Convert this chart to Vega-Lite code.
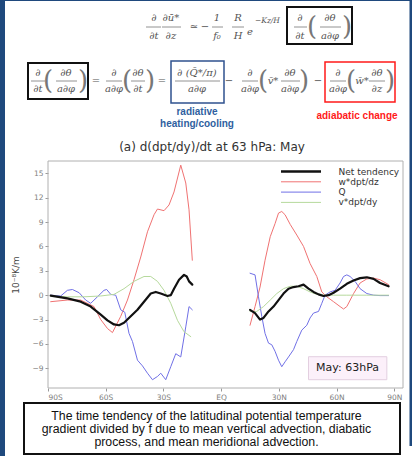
{
  "$schema": "https://vega.github.io/schema/vega-lite/v6.json",
  "width": 355,
  "height": 227,
  "autosize": {"type": "none"},
  "padding": {"left": 48, "top": 161, "right": 9, "bottom": 68},
  "background": "white",
  "config": {
    "font": "DejaVu Sans",
    "view": {"stroke": null},
    "axis": {"grid": false, "domain": false, "tickColor": "#999999", "tickSize": 3, "labelColor": "#808080", "labelFontSize": 7.5, "labelPadding": 2}
  },
  "datasets": {
    "strips": [
      {"x": 0, "x2": 5, "y": 0, "y2": 456},
      {"x": 0, "x2": 412, "y": 0, "y2": 1},
      {"x": 409.5, "x2": 412, "y": 0, "y2": 446}
    ],
    "frame": [
      {"x": 48, "x2": 403, "y": 161, "y2": 388}
    ],
    "boxes": [
      {"x": 287, "x2": 352, "y": 7, "y2": 44, "c": "k"},
      {"x": 28, "x2": 88, "y": 63, "y2": 99, "c": "k"},
      {"x": 171, "x2": 224, "y": 61, "y2": 103, "c": "b"},
      {"x": 325, "x2": 395, "y": 62, "y2": 102, "c": "r"},
      {"x": 24, "x2": 400, "y": 403, "y2": 454, "c": "k"}
    ],
    "eq": [
      {"x": 154, "y": 18, "t": "∂", "k": "n"}, {"x": 154, "y": 36, "t": "∂t", "k": "n"},
      {"x": 171, "y": 18, "t": "∂ū*", "k": "n"}, {"x": 171, "y": 36, "t": "∂z", "k": "n"},
      {"x": 194, "y": 27, "t": "≃", "k": "n"}, {"x": 205, "y": 27, "t": "−", "k": "n"},
      {"x": 217, "y": 18, "t": "1", "k": "n"}, {"x": 217, "y": 36, "t": "f₀", "k": "n"},
      {"x": 238, "y": 18, "t": "R", "k": "n"}, {"x": 238, "y": 36, "t": "H", "k": "n"},
      {"x": 250, "y": 32, "t": "e", "k": "n"}, {"x": 255, "y": 21, "t": "−Kz/H", "k": "s"},
      {"x": 300, "y": 18, "t": "∂", "k": "n"}, {"x": 300, "y": 36, "t": "∂t", "k": "n"},
      {"x": 312, "y": 27, "t": "(", "k": "p"}, {"x": 330, "y": 18, "t": "∂θ", "k": "n"}, {"x": 330, "y": 36, "t": "a∂φ", "k": "n"}, {"x": 347, "y": 27, "t": ")", "k": "p"},
      {"x": 38, "y": 73, "t": "∂", "k": "n"}, {"x": 38, "y": 89, "t": "∂t", "k": "n"},
      {"x": 48, "y": 81, "t": "(", "k": "p"}, {"x": 66, "y": 73, "t": "∂θ", "k": "n"}, {"x": 66, "y": 89, "t": "a∂φ", "k": "n"}, {"x": 83, "y": 81, "t": ")", "k": "p"},
      {"x": 96, "y": 81, "t": "=", "k": "n"},
      {"x": 114, "y": 73, "t": "∂", "k": "n"}, {"x": 114, "y": 89, "t": "a∂φ", "k": "n"},
      {"x": 127, "y": 81, "t": "(", "k": "p"}, {"x": 138, "y": 73, "t": "∂θ", "k": "n"}, {"x": 138, "y": 89, "t": "∂t", "k": "n"}, {"x": 150, "y": 81, "t": ")", "k": "p"},
      {"x": 162, "y": 81, "t": "=", "k": "n"},
      {"x": 197, "y": 73, "t": "∂ (Q̄*/π)", "k": "n"}, {"x": 197, "y": 89, "t": "a∂φ", "k": "n"},
      {"x": 229, "y": 81, "t": "−", "k": "n"},
      {"x": 250, "y": 73, "t": "∂", "k": "n"}, {"x": 250, "y": 89, "t": "a∂φ", "k": "n"},
      {"x": 263, "y": 81, "t": "(", "k": "p"}, {"x": 273, "y": 81, "t": "v̄*", "k": "n"},
      {"x": 290, "y": 73, "t": "∂θ", "k": "n"}, {"x": 290, "y": 89, "t": "a∂φ", "k": "n"}, {"x": 304, "y": 81, "t": ")", "k": "p"},
      {"x": 318, "y": 81, "t": "−", "k": "n"},
      {"x": 338, "y": 73, "t": "∂", "k": "n"}, {"x": 338, "y": 89, "t": "a∂φ", "k": "n"},
      {"x": 351, "y": 81, "t": "(", "k": "p"}, {"x": 362, "y": 81, "t": "w̄*", "k": "n"},
      {"x": 377, "y": 73, "t": "∂θ", "k": "n"}, {"x": 377, "y": 89, "t": "∂z", "k": "n"}, {"x": 390, "y": 81, "t": ")", "k": "p"}
    ],
    "eqlines": [
      {"x": 146, "x2": 161, "y": 27}, {"x": 162, "x2": 181, "y": 27}, {"x": 212, "x2": 223, "y": 27}, {"x": 232, "x2": 244, "y": 27}, {"x": 294, "x2": 307, "y": 27}, {"x": 320, "x2": 341, "y": 27},
      {"x": 31, "x2": 45, "y": 81}, {"x": 56, "x2": 77, "y": 81}, {"x": 106, "x2": 122, "y": 81}, {"x": 131, "x2": 145, "y": 81}, {"x": 175, "x2": 220, "y": 81}, {"x": 242, "x2": 258, "y": 81}, {"x": 281, "x2": 300, "y": 81}, {"x": 330, "x2": 346, "y": 81}, {"x": 369, "x2": 385, "y": 81}
    ],
    "notes": [
      {"x": 197, "y": 112, "t": "radiative", "c": "b"},
      {"x": 197, "y": 124, "t": "heating/cooling", "c": "b"},
      {"x": 357, "y": 116, "t": "adiabatic change", "c": "r"}
    ],
    "texts": [
      {"x": 212, "y": 147, "t": "(a) d(dpt/dy)/dt at 63 hPa: May", "k": "title"},
      {"x": 206.5, "y": 416, "t": "The time tendency of the latitudinal potential temperature", "k": "cap"},
      {"x": 206.5, "y": 429, "t": "gradient divided by f due to mean vertical advection, diabatic", "k": "cap"},
      {"x": 206.5, "y": 442, "t": "process, and mean meridional advection.", "k": "cap"}
    ],
    "mayBox": [
      {"lat": 45.4, "lat2": 86.1, "val": -7.57, "val2": -10.4, "mid": 65.7, "vmid": -9.0, "lab": "May: 63hPa"}
    ],
    "lines": [
      {"s": "w*dpt/dz", "h": "S", "lat": -88.6, "val": -0.8},
      {"s": "w*dpt/dz", "h": "S", "lat": -80.0, "val": -0.6},
      {"s": "w*dpt/dz", "h": "S", "lat": -73.0, "val": -0.6},
      {"s": "w*dpt/dz", "h": "S", "lat": -66.1, "val": -1.4},
      {"s": "w*dpt/dz", "h": "S", "lat": -62.6, "val": -3.0},
      {"s": "w*dpt/dz", "h": "S", "lat": -59.1, "val": -4.1},
      {"s": "w*dpt/dz", "h": "S", "lat": -56.5, "val": -4.6},
      {"s": "w*dpt/dz", "h": "S", "lat": -52.2, "val": -2.6},
      {"s": "w*dpt/dz", "h": "S", "lat": -48.7, "val": -0.6},
      {"s": "w*dpt/dz", "h": "S", "lat": -45.3, "val": 1.9},
      {"s": "w*dpt/dz", "h": "S", "lat": -41.8, "val": 4.7},
      {"s": "w*dpt/dz", "h": "S", "lat": -38.3, "val": 7.8},
      {"s": "w*dpt/dz", "h": "S", "lat": -34.9, "val": 9.9},
      {"s": "w*dpt/dz", "h": "S", "lat": -33.1, "val": 10.6},
      {"s": "w*dpt/dz", "h": "S", "lat": -29.7, "val": 10.4},
      {"s": "w*dpt/dz", "h": "S", "lat": -27.1, "val": 11.1},
      {"s": "w*dpt/dz", "h": "S", "lat": -24.5, "val": 12.7},
      {"s": "w*dpt/dz", "h": "S", "lat": -21.0, "val": 16.0},
      {"s": "w*dpt/dz", "h": "S", "lat": -18.4, "val": 13.8},
      {"s": "w*dpt/dz", "h": "S", "lat": -16.7, "val": 10.5},
      {"s": "w*dpt/dz", "h": "S", "lat": -15.0, "val": 4.3},
      {"s": "w*dpt/dz", "h": "N", "lat": 15.0, "val": -3.7},
      {"s": "w*dpt/dz", "h": "N", "lat": 17.6, "val": -1.4},
      {"s": "w*dpt/dz", "h": "N", "lat": 20.2, "val": 1.0},
      {"s": "w*dpt/dz", "h": "N", "lat": 22.8, "val": 4.3},
      {"s": "w*dpt/dz", "h": "N", "lat": 25.5, "val": 7.2},
      {"s": "w*dpt/dz", "h": "N", "lat": 28.0, "val": 8.8},
      {"s": "w*dpt/dz", "h": "N", "lat": 29.8, "val": 10.1},
      {"s": "w*dpt/dz", "h": "N", "lat": 31.5, "val": 10.3},
      {"s": "w*dpt/dz", "h": "N", "lat": 33.2, "val": 9.9},
      {"s": "w*dpt/dz", "h": "N", "lat": 35.9, "val": 8.7},
      {"s": "w*dpt/dz", "h": "N", "lat": 39.3, "val": 7.4},
      {"s": "w*dpt/dz", "h": "N", "lat": 42.8, "val": 6.0},
      {"s": "w*dpt/dz", "h": "N", "lat": 46.2, "val": 3.9},
      {"s": "w*dpt/dz", "h": "N", "lat": 49.7, "val": 2.3},
      {"s": "w*dpt/dz", "h": "N", "lat": 52.3, "val": 0.4},
      {"s": "w*dpt/dz", "h": "N", "lat": 54.9, "val": -0.2},
      {"s": "w*dpt/dz", "h": "N", "lat": 58.4, "val": -0.8},
      {"s": "w*dpt/dz", "h": "N", "lat": 61.8, "val": -1.4},
      {"s": "w*dpt/dz", "h": "N", "lat": 63.6, "val": -1.7},
      {"s": "w*dpt/dz", "h": "N", "lat": 65.3, "val": -1.4},
      {"s": "w*dpt/dz", "h": "N", "lat": 68.8, "val": 0.2},
      {"s": "w*dpt/dz", "h": "N", "lat": 72.2, "val": 1.5},
      {"s": "w*dpt/dz", "h": "N", "lat": 75.7, "val": 2.0},
      {"s": "w*dpt/dz", "h": "N", "lat": 79.2, "val": 2.1},
      {"s": "w*dpt/dz", "h": "N", "lat": 82.6, "val": 1.9},
      {"s": "w*dpt/dz", "h": "N", "lat": 87.0, "val": 1.3},
      {"s": "Q", "h": "S", "lat": -88.6, "val": 0.0},
      {"s": "Q", "h": "S", "lat": -83.4, "val": -0.1},
      {"s": "Q", "h": "S", "lat": -79.9, "val": 0.6},
      {"s": "Q", "h": "S", "lat": -77.3, "val": 0.7},
      {"s": "Q", "h": "S", "lat": -73.8, "val": 0.3},
      {"s": "Q", "h": "S", "lat": -70.4, "val": -0.6},
      {"s": "Q", "h": "S", "lat": -67.8, "val": -1.0},
      {"s": "Q", "h": "S", "lat": -64.3, "val": -0.2},
      {"s": "Q", "h": "S", "lat": -60.9, "val": 0.6},
      {"s": "Q", "h": "S", "lat": -59.5, "val": 0.7},
      {"s": "Q", "h": "S", "lat": -57.4, "val": 0.1},
      {"s": "Q", "h": "S", "lat": -54.8, "val": 0.0},
      {"s": "Q", "h": "S", "lat": -52.2, "val": -1.8},
      {"s": "Q", "h": "S", "lat": -50.1, "val": -2.1},
      {"s": "Q", "h": "S", "lat": -47.9, "val": -4.7},
      {"s": "Q", "h": "S", "lat": -46.1, "val": -5.7},
      {"s": "Q", "h": "S", "lat": -43.5, "val": -8.0},
      {"s": "Q", "h": "S", "lat": -40.9, "val": -8.7},
      {"s": "Q", "h": "S", "lat": -38.3, "val": -9.6},
      {"s": "Q", "h": "S", "lat": -35.7, "val": -10.4},
      {"s": "Q", "h": "S", "lat": -33.1, "val": -10.0},
      {"s": "Q", "h": "S", "lat": -31.4, "val": -9.6},
      {"s": "Q", "h": "S", "lat": -28.8, "val": -10.4},
      {"s": "Q", "h": "S", "lat": -26.2, "val": -8.8},
      {"s": "Q", "h": "S", "lat": -23.6, "val": -7.2},
      {"s": "Q", "h": "S", "lat": -21.0, "val": -7.6},
      {"s": "Q", "h": "S", "lat": -18.4, "val": -3.9},
      {"s": "Q", "h": "S", "lat": -16.7, "val": -1.4},
      {"s": "Q", "h": "S", "lat": -15.0, "val": -1.8},
      {"s": "Q", "h": "N", "lat": 15.0, "val": 2.7},
      {"s": "Q", "h": "N", "lat": 17.6, "val": 2.5},
      {"s": "Q", "h": "N", "lat": 19.4, "val": -0.2},
      {"s": "Q", "h": "N", "lat": 21.1, "val": -2.6},
      {"s": "Q", "h": "N", "lat": 22.8, "val": -4.7},
      {"s": "Q", "h": "N", "lat": 24.6, "val": -5.9},
      {"s": "Q", "h": "N", "lat": 26.3, "val": -6.1},
      {"s": "Q", "h": "N", "lat": 28.0, "val": -6.9},
      {"s": "Q", "h": "N", "lat": 29.8, "val": -8.0},
      {"s": "Q", "h": "N", "lat": 31.5, "val": -8.8},
      {"s": "Q", "h": "N", "lat": 33.2, "val": -8.2},
      {"s": "Q", "h": "N", "lat": 35.0, "val": -7.6},
      {"s": "Q", "h": "N", "lat": 37.6, "val": -6.7},
      {"s": "Q", "h": "N", "lat": 39.3, "val": -5.7},
      {"s": "Q", "h": "N", "lat": 41.9, "val": -4.3},
      {"s": "Q", "h": "N", "lat": 44.5, "val": -3.7},
      {"s": "Q", "h": "N", "lat": 46.2, "val": -2.8},
      {"s": "Q", "h": "N", "lat": 48.0, "val": -2.2},
      {"s": "Q", "h": "N", "lat": 50.6, "val": -2.0},
      {"s": "Q", "h": "N", "lat": 52.3, "val": -1.0},
      {"s": "Q", "h": "N", "lat": 54.0, "val": 0.0},
      {"s": "Q", "h": "N", "lat": 56.6, "val": 0.4},
      {"s": "Q", "h": "N", "lat": 59.2, "val": 0.6},
      {"s": "Q", "h": "N", "lat": 61.8, "val": 1.5},
      {"s": "Q", "h": "N", "lat": 63.6, "val": 2.3},
      {"s": "Q", "h": "N", "lat": 65.3, "val": 2.5},
      {"s": "Q", "h": "N", "lat": 67.0, "val": 2.3},
      {"s": "Q", "h": "N", "lat": 69.6, "val": 1.7},
      {"s": "Q", "h": "N", "lat": 72.2, "val": 0.8},
      {"s": "Q", "h": "N", "lat": 75.7, "val": 0.2},
      {"s": "Q", "h": "N", "lat": 79.2, "val": 0.0},
      {"s": "Q", "h": "N", "lat": 82.6, "val": -0.05},
      {"s": "Q", "h": "N", "lat": 87.0, "val": -0.05},
      {"s": "v*dpt/dy", "h": "S", "lat": -88.6, "val": -0.1},
      {"s": "v*dpt/dy", "h": "S", "lat": -79.9, "val": -0.2},
      {"s": "v*dpt/dy", "h": "S", "lat": -71.3, "val": -0.2},
      {"s": "v*dpt/dy", "h": "S", "lat": -62.6, "val": -0.1},
      {"s": "v*dpt/dy", "h": "S", "lat": -55.7, "val": 0.1},
      {"s": "v*dpt/dy", "h": "S", "lat": -50.5, "val": 0.8},
      {"s": "v*dpt/dy", "h": "S", "lat": -45.3, "val": 1.7},
      {"s": "v*dpt/dy", "h": "S", "lat": -40.1, "val": 2.3},
      {"s": "v*dpt/dy", "h": "S", "lat": -36.6, "val": 2.3},
      {"s": "v*dpt/dy", "h": "S", "lat": -33.1, "val": 1.7},
      {"s": "v*dpt/dy", "h": "S", "lat": -29.7, "val": 0.6},
      {"s": "v*dpt/dy", "h": "S", "lat": -26.2, "val": -1.0},
      {"s": "v*dpt/dy", "h": "S", "lat": -22.7, "val": -3.1},
      {"s": "v*dpt/dy", "h": "S", "lat": -19.3, "val": -4.5},
      {"s": "v*dpt/dy", "h": "S", "lat": -15.8, "val": -5.1},
      {"s": "v*dpt/dy", "h": "N", "lat": 15.0, "val": -2.0},
      {"s": "v*dpt/dy", "h": "N", "lat": 18.5, "val": -2.0},
      {"s": "v*dpt/dy", "h": "N", "lat": 22.0, "val": -1.4},
      {"s": "v*dpt/dy", "h": "N", "lat": 25.5, "val": -0.6},
      {"s": "v*dpt/dy", "h": "N", "lat": 28.9, "val": 0.2},
      {"s": "v*dpt/dy", "h": "N", "lat": 32.4, "val": 0.8},
      {"s": "v*dpt/dy", "h": "N", "lat": 35.9, "val": 1.1},
      {"s": "v*dpt/dy", "h": "N", "lat": 39.3, "val": 1.1},
      {"s": "v*dpt/dy", "h": "N", "lat": 42.8, "val": 0.8},
      {"s": "v*dpt/dy", "h": "N", "lat": 46.2, "val": 0.4},
      {"s": "v*dpt/dy", "h": "N", "lat": 49.7, "val": 0.1},
      {"s": "v*dpt/dy", "h": "N", "lat": 53.2, "val": 0.0},
      {"s": "v*dpt/dy", "h": "N", "lat": 58.4, "val": 0.0},
      {"s": "v*dpt/dy", "h": "N", "lat": 65.3, "val": 0.0},
      {"s": "v*dpt/dy", "h": "N", "lat": 75.7, "val": 0.0},
      {"s": "v*dpt/dy", "h": "N", "lat": 87.0, "val": 0.0},
      {"s": "Net tendency", "h": "S", "lat": -88.6, "val": -0.05},
      {"s": "Net tendency", "h": "S", "lat": -79.9, "val": -0.4},
      {"s": "Net tendency", "h": "S", "lat": -73.0, "val": -0.8},
      {"s": "Net tendency", "h": "S", "lat": -67.8, "val": -1.4},
      {"s": "Net tendency", "h": "S", "lat": -62.6, "val": -2.4},
      {"s": "Net tendency", "h": "S", "lat": -59.1, "val": -3.1},
      {"s": "Net tendency", "h": "S", "lat": -55.7, "val": -3.6},
      {"s": "Net tendency", "h": "S", "lat": -53.1, "val": -3.7},
      {"s": "Net tendency", "h": "S", "lat": -50.5, "val": -3.4},
      {"s": "Net tendency", "h": "S", "lat": -47.0, "val": -2.6},
      {"s": "Net tendency", "h": "S", "lat": -43.5, "val": -1.8},
      {"s": "Net tendency", "h": "S", "lat": -40.1, "val": -0.8},
      {"s": "Net tendency", "h": "S", "lat": -36.6, "val": 0.2},
      {"s": "Net tendency", "h": "S", "lat": -34.0, "val": 0.4},
      {"s": "Net tendency", "h": "S", "lat": -31.4, "val": 0.2},
      {"s": "Net tendency", "h": "S", "lat": -27.9, "val": -0.1},
      {"s": "Net tendency", "h": "S", "lat": -26.2, "val": 0.0},
      {"s": "Net tendency", "h": "S", "lat": -24.5, "val": 0.8},
      {"s": "Net tendency", "h": "S", "lat": -21.9, "val": 1.9},
      {"s": "Net tendency", "h": "S", "lat": -19.3, "val": 2.5},
      {"s": "Net tendency", "h": "S", "lat": -17.9, "val": 2.3},
      {"s": "Net tendency", "h": "S", "lat": -16.7, "val": 1.7},
      {"s": "Net tendency", "h": "S", "lat": -15.0, "val": 1.3},
      {"s": "Net tendency", "h": "N", "lat": 15.0, "val": -1.8},
      {"s": "Net tendency", "h": "N", "lat": 17.6, "val": -2.2},
      {"s": "Net tendency", "h": "N", "lat": 20.2, "val": -3.0},
      {"s": "Net tendency", "h": "N", "lat": 22.0, "val": -2.8},
      {"s": "Net tendency", "h": "N", "lat": 24.6, "val": -2.0},
      {"s": "Net tendency", "h": "N", "lat": 27.2, "val": -1.4},
      {"s": "Net tendency", "h": "N", "lat": 29.8, "val": -0.6},
      {"s": "Net tendency", "h": "N", "lat": 32.4, "val": 0.2},
      {"s": "Net tendency", "h": "N", "lat": 35.0, "val": 0.8},
      {"s": "Net tendency", "h": "N", "lat": 37.6, "val": 1.0},
      {"s": "Net tendency", "h": "N", "lat": 40.2, "val": 1.1},
      {"s": "Net tendency", "h": "N", "lat": 42.8, "val": 1.3},
      {"s": "Net tendency", "h": "N", "lat": 45.4, "val": 0.8},
      {"s": "Net tendency", "h": "N", "lat": 48.0, "val": 0.4},
      {"s": "Net tendency", "h": "N", "lat": 50.6, "val": 0.1},
      {"s": "Net tendency", "h": "N", "lat": 53.2, "val": -0.1},
      {"s": "Net tendency", "h": "N", "lat": 55.8, "val": 0.0},
      {"s": "Net tendency", "h": "N", "lat": 58.4, "val": 0.3},
      {"s": "Net tendency", "h": "N", "lat": 61.8, "val": 0.8},
      {"s": "Net tendency", "h": "N", "lat": 65.3, "val": 1.4},
      {"s": "Net tendency", "h": "N", "lat": 68.8, "val": 1.8},
      {"s": "Net tendency", "h": "N", "lat": 72.2, "val": 2.1},
      {"s": "Net tendency", "h": "N", "lat": 75.7, "val": 2.2},
      {"s": "Net tendency", "h": "N", "lat": 79.2, "val": 2.0},
      {"s": "Net tendency", "h": "N", "lat": 82.6, "val": 1.5},
      {"s": "Net tendency", "h": "N", "lat": 87.0, "val": 1.1}
    ]
  },
  "layer": [
    {
      "encoding": {
        "x": {"field": "x", "type": "quantitative", "scale": {"domain": [48, 403], "nice": false, "zero": false}, "axis": null},
        "y": {"field": "y", "type": "quantitative", "scale": {"domain": [161, 388], "nice": false, "zero": false, "reverse": true}, "axis": null}
      },
      "layer": [
        {
          "data": {"name": "strips"},
          "mark": {"type": "rect", "fill": "#1f497d"},
          "encoding": {"x2": {"field": "x2"}, "y2": {"field": "y2"}}
        },
        {
          "data": {"name": "frame"},
          "mark": {"type": "rect", "fill": "transparent", "stroke": "#b0b0b0", "strokeWidth": 1},
          "encoding": {"x2": {"field": "x2"}, "y2": {"field": "y2"}}
        },
        {
          "data": {"name": "boxes"},
          "transform": [{"filter": "datum.c === 'k'"}],
          "mark": {"type": "rect", "fill": "transparent", "stroke": "#111111", "strokeWidth": 2},
          "encoding": {"x2": {"field": "x2"}, "y2": {"field": "y2"}}
        },
        {
          "data": {"name": "boxes"},
          "transform": [{"filter": "datum.c === 'b'"}],
          "mark": {"type": "rect", "fill": "transparent", "stroke": "#2f528f", "strokeWidth": 1.5},
          "encoding": {"x2": {"field": "x2"}, "y2": {"field": "y2"}}
        },
        {
          "data": {"name": "boxes"},
          "transform": [{"filter": "datum.c === 'r'"}],
          "mark": {"type": "rect", "fill": "transparent", "stroke": "#ff1a1a", "strokeWidth": 1.5},
          "encoding": {"x2": {"field": "x2"}, "y2": {"field": "y2"}}
        },
        {
          "data": {"name": "eqlines"},
          "mark": {"type": "rule", "stroke": "#777777", "strokeWidth": 0.8},
          "encoding": {"x2": {"field": "x2"}}
        },
        {
          "data": {"name": "eq"},
          "transform": [{"filter": "datum.k === 'n'"}],
          "mark": {"type": "text", "font": "DejaVu Serif", "fontStyle": "italic", "fontSize": 10, "color": "#555555", "align": "center", "baseline": "middle"},
          "encoding": {"text": {"field": "t"}}
        },
        {
          "data": {"name": "eq"},
          "transform": [{"filter": "datum.k === 's'"}],
          "mark": {"type": "text", "font": "DejaVu Serif", "fontStyle": "italic", "fontSize": 7.5, "color": "#555555", "align": "left", "baseline": "middle"},
          "encoding": {"text": {"field": "t"}}
        },
        {
          "data": {"name": "eq"},
          "transform": [{"filter": "datum.k === 'p'"}],
          "mark": {"type": "text", "font": "DejaVu Serif", "fontWeight": 200, "fontSize": 26, "color": "#777777", "align": "center", "baseline": "middle"},
          "encoding": {"text": {"field": "t"}}
        },
        {
          "data": {"name": "notes"},
          "transform": [{"filter": "datum.c === 'b'"}],
          "mark": {"type": "text", "font": "Liberation Sans", "fontSize": 10, "fontWeight": "bold", "color": "#2f5fa0", "align": "center", "baseline": "middle"},
          "encoding": {"text": {"field": "t"}}
        },
        {
          "data": {"name": "notes"},
          "transform": [{"filter": "datum.c === 'r'"}],
          "mark": {"type": "text", "font": "Liberation Sans", "fontSize": 10, "fontWeight": "bold", "color": "#ff1a1a", "align": "center", "baseline": "middle"},
          "encoding": {"text": {"field": "t"}}
        },
        {
          "data": {"name": "texts"},
          "transform": [{"filter": "datum.k === 'title'"}],
          "mark": {"type": "text", "fontSize": 12, "color": "#333333", "align": "center", "baseline": "middle"},
          "encoding": {"text": {"field": "t"}}
        },
        {
          "data": {"name": "texts"},
          "transform": [{"filter": "datum.k === 'cap'"}],
          "mark": {"type": "text", "font": "Liberation Sans", "fontSize": 12.3, "color": "#111111", "align": "center", "baseline": "middle"},
          "encoding": {"text": {"field": "t"}}
        }
      ]
    },
    {
      "encoding": {
        "x": {"field": "lat", "type": "quantitative", "scale": {"domain": [-90, 94.5], "nice": false, "zero": false},
              "axis": {"orient": "bottom", "title": null, "values": [-90, -60, -30, 0, 30, 60, 90],
                       "labelExpr": "datum.value === 0 ? 'EQ' : (abs(datum.value) + (datum.value < 0 ? 'S' : 'N'))"}},
        "y": {"field": "val", "type": "quantitative", "scale": {"domain": [-11.42, 16.51], "nice": false, "zero": false},
              "axis": {"orient": "left", "title": "10⁻⁸K/m", "values": [-9, -6, -3, 0, 3, 6, 9, 12, 15],
                       "titleFontSize": 9, "titleFontWeight": "normal", "titleColor": "#444444", "titlePadding": 11}}
      },
      "layer": [
        {
          "data": {"name": "lines"},
          "mark": {"type": "line", "strokeJoin": "round", "strokeCap": "round"},
          "encoding": {
            "color": {"field": "s", "type": "nominal",
                      "scale": {"domain": ["Net tendency", "w*dpt/dz", "Q", "v*dpt/dy"], "range": ["#111111", "#f07272", "#7070e6", "#b6d99c"]},
                      "legend": {"orient": "none", "legendX": 233, "legendY": 6, "title": null, "symbolType": "stroke", "symbolSize": 1600,
                                 "symbolOffset": 15.5, "clipHeight": 9, "labelFontSize": 9, "labelColor": "#333333", "labelOffset": 33, "rowPadding": 0.3, "padding": 0,
                                 "encode": {"symbols": {"update": {"strokeWidth": {"signal": "datum.value === 'Net tendency' ? 2.5 : 1"}}}}}},
            "strokeWidth": {"condition": {"test": "datum.s === 'Net tendency'", "value": 2.2}, "value": 1},
            "detail": {"field": "h"}
          }
        },
        {
          "data": {"name": "mayBox"},
          "mark": {"type": "rect", "fill": "#fcf0fa", "stroke": "#e3cfe0", "strokeWidth": 1},
          "encoding": {
            "x2": {"field": "lat2"},
            "y2": {"field": "val2"}
          }
        },
        {
          "data": {"name": "mayBox"},
          "mark": {"type": "text", "fontSize": 11, "color": "#222222", "align": "center", "baseline": "middle"},
          "encoding": {
            "x": {"field": "mid", "type": "quantitative", "scale": {"domain": [-90, 94.5], "nice": false, "zero": false},
                  "axis": {"orient": "bottom", "title": null, "values": [-90, -60, -30, 0, 30, 60, 90],
                           "labelExpr": "datum.value === 0 ? 'EQ' : (abs(datum.value) + (datum.value < 0 ? 'S' : 'N'))"}},
            "y": {"field": "vmid", "type": "quantitative", "scale": {"domain": [-11.42, 16.51], "nice": false, "zero": false},
                  "axis": {"orient": "left", "title": "10⁻⁸K/m", "values": [-9, -6, -3, 0, 3, 6, 9, 12, 15],
                           "titleFontSize": 9, "titleFontWeight": "normal", "titleColor": "#444444", "titlePadding": 11}},
            "text": {"field": "lab"}
          }
        }
      ]
    }
  ],
  "resolve": {"scale": {"x": "independent", "y": "independent"}}
}
